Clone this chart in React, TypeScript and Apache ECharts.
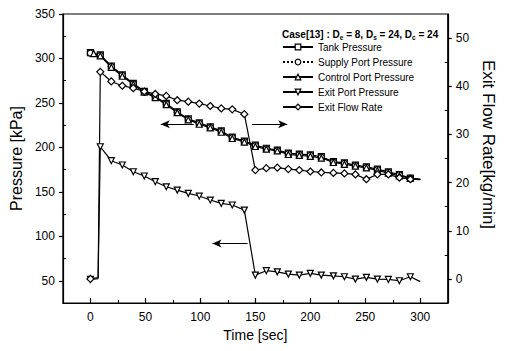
import React, { useEffect, useRef } from "react";
import * as echarts from "echarts";

// time samples (sec)
const startTimes = [0, 7];
const mainTimes = [9, 19, 29, 39, 49, 59, 69, 79, 89, 99, 109, 119, 129, 140, 150, 160, 170, 180, 190, 200, 210, 221, 231, 241, 251, 261, 271, 281, 291, 300];

// pressures [kPa]
const tankStart = [306.5];
const tankPressure = [304, 291.5, 281.5, 272, 263, 257, 249.5, 240, 232, 227.5, 223, 218.5, 211.5, 207, 202.5, 199, 197, 193.5, 192.5, 191.5, 189.5, 184, 182.5, 180, 178, 175.5, 172.5, 169.5, 165.5, 164];
const supplyStart = [306];
const supplyPressure = [303.5, 291, 281, 271.5, 262.5, 256.5, 249, 239.5, 231.5, 227, 222.5, 218, 211, 206.5, 202, 198.5, 196.5, 193, 192, 191, 189, 183.5, 182, 179.5, 177.5, 175, 172, 169, 165, 164];
const controlStart = [305.5];
const controlPressure = [303, 290, 280, 271, 262, 256, 248, 239, 231, 226, 222, 217, 210, 206, 201, 198, 196, 192, 191, 190, 188, 183, 181, 179, 177, 174, 171, 168, 165, 164];
const exitStart = [51.5, 52.5];
const exitPressure = [200.7, 185, 180.2, 172.6, 167.8, 161.4, 155.7, 152, 148.3, 145.3, 140.8, 137, 135.2, 129.5, 56.4, 61.3, 60.1, 57.5, 56.4, 58.3, 56.4, 55.6, 54.5, 51.9, 53.8, 51.9, 51.5, 50, 54.5, 49];
// exit flow rate [kg/min]
const flowStart = [0, 0.3];
const exitFlow = [43.0, 41.0, 40.1, 39.6, 38.9, 38.4, 38.0, 37.1, 36.8, 36.4, 35.9, 35.4, 35.2, 34.2, 22.6, 23.0, 23.1, 22.8, 22.6, 22.3, 22.1, 22.0, 21.9, 21.7, 20.7, 21.7, 21.7, 21.0, 20.7, 20.6];

// ticks
const xTicks = [0, 50, 100, 150, 200, 250, 300];
const xMinorTicks = [25, 75, 125, 175, 225, 275];
const leftTicks = [50, 100, 150, 200, 250, 300, 350];
const leftMinorTicks = [75, 125, 175, 225, 275, 325];
const rightTicks = [0, 10, 20, 30, 40, 50];
const rightMinorTicks = [5, 15, 25, 35, 45];

// annotation arrows [fromT, toT, kPa]
const arrowLeftUpper = [94, 64, 226];
const arrowRight = [147, 179, 226];
const arrowLeftLower = [143, 111, 92];

const FONT = "Liberation Sans";

function build(
  startT: number[],
  startV: number[],
  vals: number[],
  hideStartIdx: number | null
) {
  const out: any[] = [];
  startV.forEach((v, i) => {
    if (hideStartIdx === i) out.push({ value: [startT[i], v], symbol: "none" });
    else out.push([startT[i], v]);
  });
  vals.forEach((v, i) => {
    if (i === vals.length - 1) out.push({ value: [mainTimes[i], v], symbol: "none" });
    else out.push([mainTimes[i], v]);
  });
  return out;
}

export default function App() {
  const ref = useRef<HTMLDivElement>(null);
  useEffect(() => {
    document.body.style.margin = "0";
    const chart = echarts.init(ref.current!, null, { renderer: "svg" });
    const lineStyle = { color: "#000", width: 1.2 };
    const itemStyle = { color: "#fff", borderColor: "#000", borderWidth: 1.2 };
    const common = {
      type: "line",
      lineStyle,
      itemStyle,
      symbolSize: 6,
      showSymbol: true,
      emphasis: { disabled: true },
    };
    const axisLine = { show: true, onZero: false, lineStyle: { color: "#000", width: 1.2 } };
    const option: any = {
      animation: false,
      textStyle: { fontFamily: FONT, color: "#000" },
      title: {
        left: 277,
        top: 22,
        text:
          "{a|Case[13] : D}{s|e}{a| = 8, D}{s|s}{a| = 24, D}{s|c}{a| = 24}",
        textStyle: {
          rich: {
            a: { fontFamily: FONT, fontSize: 10, fontWeight: "bold", color: "#000" },
            s: { fontFamily: FONT, fontSize: 6.5, fontWeight: "bold", color: "#000", padding: [7, 0, 0, 0] },
          },
        },
      },
      legend: {
        orient: "vertical",
        left: 277,
        top: 37,
        itemWidth: 30,
        itemHeight: 7,
        itemGap: 5,
        itemStyle: { color: "#fff", borderColor: "#000", borderWidth: 1.2 },
        textStyle: { fontFamily: FONT, fontSize: 10, color: "#000" },
        data: [
          "Tank Pressure",
          "Supply Port Pressure",
          "Control Port Pressure",
          "Exit Port Pressure",
          "Exit Flow Rate",
        ],
      },
      grid: {
        left: 60,
        right: 48,
        top: 14,
        bottom: 48,
        show: true,
        borderColor: "#000",
        borderWidth: 1.2,
        backgroundColor: "transparent",
      },
      xAxis: [
        {
          type: "value",
          min: -25,
          max: 325,
          name: "Time [sec]",
          nameLocation: "middle",
          nameGap: 24,
          nameTextStyle: { fontFamily: FONT, fontSize: 14, color: "#000" },
          axisLine,
          axisTick: { show: true, inside: true, length: 5, customValues: xTicks, lineStyle: { color: "#000", width: 1.2 } },
          axisLabel: { customValues: xTicks, fontFamily: FONT, fontSize: 12, color: "#000", margin: 8 },
          splitLine: { show: false },
        },
        {
          type: "value",
          min: -25,
          max: 325,
          position: "bottom",
          axisLine: { show: false, onZero: false },
          axisTick: { show: true, inside: true, length: 3, customValues: xMinorTicks, lineStyle: { color: "#000", width: 1 } },
          axisLabel: { show: false },
          splitLine: { show: false },
        },
      ],
      yAxis: [
        {
          type: "value",
          min: 25,
          max: 350,
          name: "Pressure [kPa]",
          nameLocation: "middle",
          nameGap: 36,
          nameTextStyle: { fontFamily: FONT, fontSize: 16, color: "#000" },
          axisLine,
          axisTick: { show: true, inside: false, length: 4, customValues: leftTicks, lineStyle: { color: "#000", width: 1.2 } },
          axisLabel: { customValues: leftTicks, fontFamily: FONT, fontSize: 12, color: "#000", margin: 8 },
          splitLine: { show: false },
        },
        {
          type: "value",
          min: -5,
          max: 55,
          position: "right",
          name: "Exit Flow Rate[kg/min]",
          nameLocation: "middle",
          nameRotate: -90,
          nameGap: 30,
          nameTextStyle: { fontFamily: FONT, fontSize: 17, color: "#000", padding: [0, 28, 0, 0] },
          axisLine,
          axisTick: { show: true, inside: false, length: 4, customValues: rightTicks, lineStyle: { color: "#000", width: 1.2 } },
          axisLabel: { customValues: rightTicks, fontFamily: FONT, fontSize: 12, color: "#000", margin: 8 },
          splitLine: { show: false },
        },
        {
          type: "value",
          min: 25,
          max: 350,
          position: "left",
          axisLine: { show: false, onZero: false },
          axisTick: { show: true, inside: true, length: 3, customValues: leftMinorTicks, lineStyle: { color: "#000", width: 1 } },
          axisLabel: { show: false },
          splitLine: { show: false },
        },
        {
          type: "value",
          min: -5,
          max: 55,
          position: "right",
          axisLine: { show: false, onZero: false },
          axisTick: { show: true, inside: true, length: 3, customValues: rightMinorTicks, lineStyle: { color: "#000", width: 1 } },
          axisLabel: { show: false },
          splitLine: { show: false },
        },
      ],
      series: [
        {
          ...common,
          name: "Tank Pressure",
          symbol: "rect",
          data: build([0], tankStart, tankPressure, null),
          markLine: {
            silent: true,
            symbol: ["none", "arrow"],
            symbolSize: [6, 9],
            label: { show: false },
            lineStyle: { color: "#000", width: 1.2, type: "solid" },
            data: [arrowLeftUpper, arrowRight, arrowLeftLower].map((a) => [
              { coord: [a[0], a[2]] },
              { coord: [a[1], a[2]] },
            ]),
          },
        },
        {
          ...common,
          name: "Supply Port Pressure",
          symbol: "circle",
          lineStyle: { color: "#000", width: 1.2, type: "dotted" },
          data: build([0], supplyStart, supplyPressure, null),
        },
        {
          ...common,
          name: "Control Port Pressure",
          symbol: "triangle",
          data: build([3], controlStart, controlPressure, null),
        },
        {
          ...common,
          name: "Exit Port Pressure",
          symbol: "path://M0,0 L10,0 L5,9 Z",
          data: build(startTimes, exitStart, exitPressure, 1),
        },
        {
          ...common,
          name: "Exit Flow Rate",
          symbol: "diamond",
          symbolSize: 7,
          yAxisIndex: 1,
          data: build(startTimes, flowStart, exitFlow, 1),
        },
      ],
    };
    chart.setOption(option);
    return () => chart.dispose();
  }, []);
  return <div ref={ref} style={{ width: 505, height: 351 }} />;
}
